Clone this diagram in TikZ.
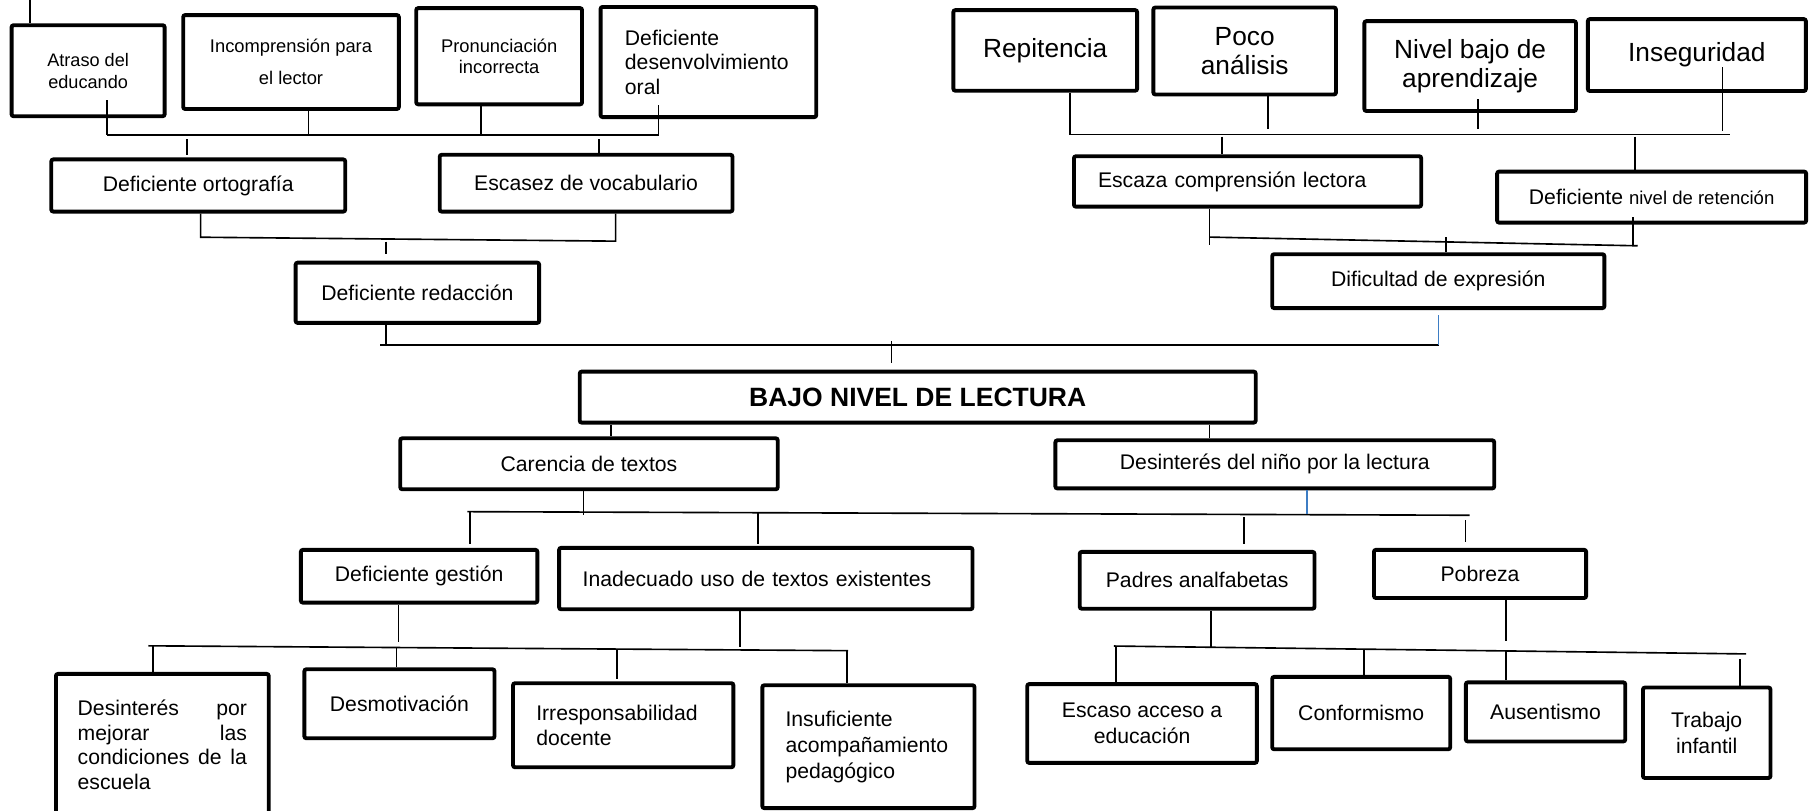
\documentclass[tikz,border=0pt]{standalone}
\usepackage{fontspec}
\setmainfont{Liberation Sans}
\usetikzlibrary{calc}
\definecolor{linkblue}{RGB}{61,125,196}
\newcommand{\fillline}[1]{\leavevmode\hbox to 2.92cm{#1}}

\begin{document}
\begin{tikzpicture}[causebox/.style={draw,line width=1.9pt,rounded corners=1pt,inner sep=0pt,align=center,font=\fontsize{10.4}{12.5}\selectfont},
    smalltext/.style={font=\fontsize{8.9}{10.8}\selectfont},
    bigtext/.style={font=\fontsize{12.9}{14}\selectfont},
    link/.style={line width=0.8pt},
    bluelink/.style={line width=0.8pt,draw=linkblue}]
    \useasboundingbox (0,0) rectangle (31.36,-13.98);

    % causas de la deficiente redaccion
    \node[causebox,smalltext,minimum width=2.64cm,minimum height=1.57cm] (atraso) at (1.52,-1.22) {Atraso del\\educando};
    \node[causebox,smalltext,font=\fontsize{9}{15.4}\selectfont,minimum width=3.72cm,minimum height=1.62cm] (incomp) at (5.02,-1.07) {Incomprensión para\\el lector};
    \node[causebox,smalltext,font=\fontsize{9}{10.2}\selectfont,minimum width=2.86cm,minimum height=1.66cm] (pronun) at (8.61,-0.97) {Pronunciación\\incorrecta};
    \node[causebox,font=\fontsize{10.4}{12}\selectfont,minimum width=3.72cm,minimum height=1.90cm,text width=2.88cm,align=left] (desenv) at (12.22,-1.07) {Deficiente\\desenvolvimiento\\oral};
    \node[causebox,minimum width=5.07cm,minimum height=0.90cm] (ortog) at (3.42,-3.20) {Deficiente ortografía};
    \node[causebox,minimum width=5.05cm,minimum height=0.98cm] (escasez) at (10.11,-3.16) {Escasez de vocabulario};
    \node[causebox,minimum width=4.20cm,minimum height=1.04cm] (redacc) at (7.20,-5.05) {Deficiente redacción};

    % causas de la dificultad de expresion
    \node[causebox,bigtext,minimum width=3.17cm,minimum height=1.39cm] (repit) at (18.03,-0.87) {Repitencia};
    \node[causebox,bigtext,minimum width=3.15cm,minimum height=1.50cm] (poco) at (21.47,-0.88) {Poco\\análisis};
    \node[causebox,bigtext,minimum width=3.65cm,minimum height=1.55cm] (nivel) at (25.36,-1.14) {Nivel bajo de\\aprendizaje};
    \node[causebox,bigtext,minimum width=3.76cm,minimum height=1.24cm] (insegur) at (29.27,-0.95) {Inseguridad};
    \node[causebox,minimum width=5.99cm,minimum height=0.87cm,text width=5.16cm,align=left] (escaza) at (21.52,-3.13) {Escaza comprensión lectora};
    \node[causebox,minimum width=5.33cm,minimum height=0.88cm] (reten) at (28.49,-3.40) {Deficiente {\fontsize{9.1}{11}\selectfont nivel de retención}};
    \node[causebox,minimum width=5.73cm,minimum height=0.93cm] (dificul) at (24.81,-4.85) {Dificultad de expresión};

    % problema central
    \node[causebox,font=\bfseries\fontsize{13}{15}\selectfont,minimum width=11.66cm,minimum height=0.88cm] (bajo) at (15.83,-6.85) {BAJO NIVEL DE LECTURA};
    \node[causebox,minimum width=6.51cm,minimum height=0.88cm] (carencia) at (10.16,-8.00) {Carencia de textos};
    \node[causebox,minimum width=7.57cm,minimum height=0.83cm] (desint) at (21.99,-8.01) {Desinterés del niño por la lectura};

    \node[causebox,minimum width=4.08cm,minimum height=0.91cm] (gestion) at (7.23,-9.94) {Deficiente gestión};
    \node[causebox,minimum width=7.13cm,minimum height=1.06cm,text width=6.32cm,align=left] (inadec) at (13.21,-9.98) {Inadecuado uso de textos existentes};
    \node[causebox,minimum width=4.05cm,minimum height=0.98cm] (padres) at (20.65,-10.01) {Padres analfabetas};
    \node[causebox,minimum width=3.66cm,minimum height=0.83cm] (pobreza) at (25.53,-9.90) {Pobreza};

    \node[causebox,font=\fontsize{10.4}{12.1}\selectfont,minimum width=3.67cm,minimum height=2.45cm,text width=2.92cm,align=left] (desmejor) at (2.80,-12.85)
      {\fillline{Desinterés\hfill por}\\\fillline{mejorar\hfill las}\\\fillline{condiciones\hfill de\hfill la}\\escuela};
    \node[causebox,minimum width=3.28cm,minimum height=1.19cm] (desmot) at (6.89,-12.14) {Desmotivación};
    \node[causebox,font=\fontsize{10.4}{12}\selectfont,minimum width=3.80cm,minimum height=1.45cm,text width=3.0cm,align=left] (irresp) at (10.75,-12.51) {Irresponsabilidad\\docente};
    \node[causebox,font=\fontsize{10.4}{12.8}\selectfont,minimum width=3.66cm,minimum height=2.12cm,text width=2.86cm,align=left] (insuf) at (14.98,-12.88) {Insuficiente\\acompañamiento\\pedagógico};
    \node[causebox,font=\fontsize{10.4}{12.5}\selectfont,minimum width=3.96cm,minimum height=1.36cm] (escaso) at (19.70,-12.48) {Escaso acceso a\\educación};
    \node[causebox,minimum width=3.07cm,minimum height=1.25cm] (conform) at (23.48,-12.30) {Conformismo};
    \node[causebox,minimum width=2.75cm,minimum height=1.02cm] (ausent) at (26.66,-12.28) {Ausentismo};
    \node[causebox,font=\fontsize{10.4}{12.5}\selectfont,minimum width=2.20cm,minimum height=1.56cm] (trabajo) at (29.44,-12.64) {Trabajo\\infantil};

    % trazo suelto arriba
    \coordinate (edge) at (0.514,0);
    \draw[link] (edge) -- (edge |- atraso.north);

    % primer nivel izquierda
    \coordinate (barA1) at (1.85,-2.328);
    \coordinate (barA2) at (11.36,-2.328);
    \draw[link] (barA1) -- (barA2);
    \draw[link] (barA1) -- ($(barA1 |- atraso.south)+(0,0.32)$);
    \coordinate (a2) at (5.32,-2.328);
    \draw[link] (a2) -- (a2 |- incomp.south);
    \coordinate (a3) at (8.30,-2.328);
    \draw[link] (a3) -- (a3 |- pronun.south);
    \draw[link] (barA2) -- ($(barA2 |- desenv.south)+(0,0.24)$);
    \coordinate (a4) at (3.23,-2.328);
    \draw[link,shorten <=0.07cm,shorten >=0.04cm] (a4) -- (a4 |- ortog.north);
    \coordinate (a5) at (10.33,-2.328);
    \draw[link,shorten <=0.07cm] (a5) -- (a5 |- escasez.north);

    \coordinate (barB1) at (3.46,-4.092);
    \coordinate (barB2) at (10.62,-4.16);
    \draw[link] (barB1 |- ortog.south) -- (barB1) -- (barB2) -- (barB2 |- escasez.south);
    \coordinate (b1) at (6.66,-4.17);
    \draw[link,shorten >=0.11cm] (b1) -- (b1 |- redacc.north);

    % hacia el problema central
    \coordinate (barC1) at (6.56,-5.952);
    \coordinate (barC2) at (24.816,-5.952);
    \draw[link] (barC1) -- (barC2);
    \coordinate (c1) at (6.654,-5.952);
    \draw[link] (c1) -- (c1 |- redacc.south);
    \draw[bluelink,shorten >=0.08cm] (barC2) -- (barC2 |- dificul.south);
    \coordinate (c2) at (15.38,-5.88);
    \draw[link,shorten >=0.11cm] (c2) -- (c2 |- bajo.north);

    % primer nivel derecha
    \coordinate (barD1) at (18.454,-2.318);
    \coordinate (barD2) at (29.84,-2.318);
    \draw[link] (barD1 |- repit.south) -- (barD1) -- (barD2);
    \coordinate (d1) at (21.868,-2.318);
    \draw[link,shorten <=0.09cm] (d1) -- (d1 |- poco.south);
    \coordinate (d2) at (25.50,-2.318);
    \draw[link,shorten <=0.09cm] (d2) -- ($(d2 |- nivel.south)+(0,0.246)$);
    \coordinate (d3) at (29.714,-2.318);
    \draw[link,shorten <=0.065cm] (d3) -- ($(d3 |- insegur.south)+(0,0.444)$);
    \coordinate (d4) at (21.08,-2.318);
    \draw[link,shorten <=0.04cm] (d4) -- (d4 |- escaza.north);
    \coordinate (d5) at (28.20,-2.318);
    \draw[link,shorten <=0.04cm] (d5) -- (d5 |- reten.north);

    \coordinate (barE1) at (20.86,-4.09);
    \coordinate (barE2) at (28.25,-4.24);
    \draw[link] (barE1) -- (barE2);
    \coordinate (e1) at (20.86,-4.22);
    \draw[link] (e1) -- (e1 |- escaza.south);
    \coordinate (e2) at (28.17,-4.22);
    \draw[link] (e2) -- ($(e2 |- reten.south)+(0,0.13)$);
    \coordinate (e3) at (24.94,-4.09);
    \draw[link] (e3) -- (e3 |- dificul.north);

    % efectos
    \coordinate (f1) at (10.54,-7.4);
    \draw[link] (bajo.south -| f1) -- (carencia.north -| f1);
    \coordinate (f2) at (20.86,-7.4);
    \draw[link] (bajo.south -| f2) -- (desint.north -| f2);

    \coordinate (barG1) at (8.064,-8.826);
    \coordinate (barG2) at (25.35,-8.888);
    \draw[link] (barG1) -- (barG2);
    \coordinate (g1) at (10.066,-8.88);
    \draw[link] (g1) -- (g1 |- carencia.south);
    \coordinate (g2) at (22.54,-8.86);
    \draw[bluelink] (g2) -- (g2 |- desint.south);
    \coordinate (g3) at (8.108,-8.826);
    \draw[link,shorten >=0.07cm] (g3) -- (g3 |- gestion.north);
    \coordinate (g4) at (13.07,-8.83);
    \draw[link,shorten >=0.03cm] (g4) -- (g4 |- inadec.north);
    \coordinate (g5) at (21.46,-8.85);
    \draw[link,shorten <=0.07cm,shorten >=0.1cm] (g5) -- (g5 |- padres.north);
    \coordinate (g6) at (25.28,-8.886);
    \draw[link,shorten <=0.085cm,shorten >=0.1cm] (g6) -- (g6 |- pobreza.north);

    \coordinate (barH1) at (2.56,-11.14);
    \coordinate (barH2) at (14.63,-11.224);
    \draw[link] (barH1) -- (barH2);
    \coordinate (h1) at (6.876,-11.17);
    \draw[link,shorten <=0.1cm] (h1) -- (h1 |- gestion.south);
    \coordinate (h2) at (12.76,-11.21);
    \draw[link,shorten <=0.05cm] (h2) -- (h2 |- inadec.south);
    \coordinate (h3) at (2.64,-11.14);
    \draw[link] (h3) -- (h3 |- desmejor.north);
    \coordinate (h4) at (6.84,-11.17);
    \draw[link] (h4) -- (h4 |- desmot.north);
    \coordinate (h5) at (10.648,-11.2);
    \draw[link,shorten >=0.04cm] (h5) -- (h5 |- irresp.north);
    \coordinate (h6) at (14.61,-11.224);
    \draw[link] (h6) -- (h6 |- insuf.north);

    \coordinate (barI1) at (19.212,-11.144);
    \coordinate (barI2) at (30.12,-11.28);
    \draw[link] (barI1) -- (barI2);
    \coordinate (i1) at (20.89,-11.165);
    \draw[link] (i1) -- (i1 |- padres.south);
    \coordinate (i2) at (25.98,-11.23);
    \draw[link,shorten <=0.18cm] (i2) -- (i2 |- pobreza.south);
    \draw[link] (i2) -- (i2 |- ausent.north);
    \coordinate (i3) at (19.248,-11.144);
    \draw[link] (i3) -- (i3 |- escaso.north);
    \coordinate (i4) at (23.53,-11.2);
    \draw[link] (i4) -- (i4 |- conform.north);
    \coordinate (i6) at (30.01,-11.28);
    \draw[link,shorten <=0.09cm] (i6) -- (i6 |- trabajo.north);
\end{tikzpicture}
\end{document}
